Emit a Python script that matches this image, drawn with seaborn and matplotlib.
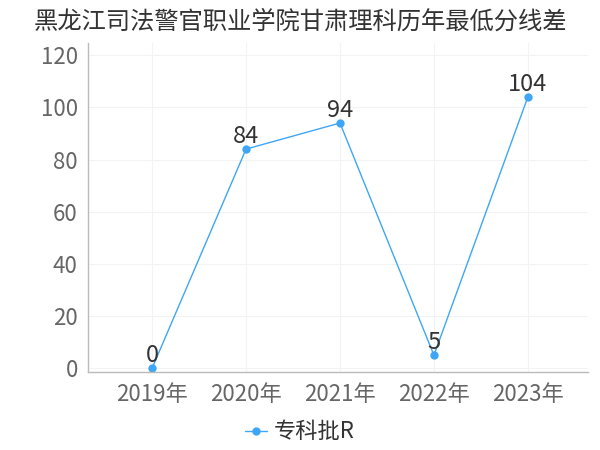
import matplotlib
matplotlib.use("Agg")
import matplotlib.pyplot as plt
import seaborn as sns
import pandas as pd

# data
years = ['2019年', '2020年', '2021年', '2022年', '2023年']
scores = [0, 84, 94, 5, 104]
series_name = '专科批R'

df = pd.DataFrame({'年份': years, '分数': scores, '批次': series_name})

sns.set_style('white')
plt.rcParams['font.family'] = ['Noto Sans CJK SC', 'DejaVu Sans']

fig = plt.figure(figsize=(6, 4.5), dpi=100)
ax = fig.add_axes([0.147, 0.173, 0.833, 0.731])

blue = '#3fa6f7'
sns.lineplot(data=df, x='年份', y='分数', hue='批次', palette=[blue],
             marker='o', markersize=6, markeredgewidth=0, linewidth=1, ax=ax,
             legend=False)

# value labels
for i, v in enumerate(scores):
    ax.text(i, v + 0.3, str(v), ha='center', va='bottom', fontsize=17, color='#333333')

ax.set_ylim(-1.5, 124.6)
ax.set_xlim(-0.68, 4.64)
ax.set_yticks([0, 20, 40, 60, 80, 100, 120])
ax.grid(True, color='#f3f3f3', linewidth=0.8)
ax.set_axisbelow(True)

for s in ['top', 'right']:
    ax.spines[s].set_visible(False)
for s in ['left', 'bottom']:
    ax.spines[s].set_color('#bbbbbb')
    ax.spines[s].set_linewidth(1)

ax.tick_params(axis='both', colors='#bbbbbb', length=4, width=1, labelsize=16, labelcolor='#666666')
ax.tick_params(axis='x', pad=4)
ax.set_xlabel('')
ax.set_ylabel('')

handle = plt.Line2D([], [], color=blue, marker='o', markersize=6, markeredgewidth=0, linewidth=1)
fig.legend([handle], [series_name], loc='center', bbox_to_anchor=(0.5, 0.04), frameon=False,
           fontsize=16, handlelength=1.0, handletextpad=0.3, labelcolor='#333333')

fig.suptitle('黑龙江司法警官职业学院甘肃理科历年最低分线差', fontsize=17.5, color='#333333', y=0.98)

fig.savefig('out.png', dpi=100)
